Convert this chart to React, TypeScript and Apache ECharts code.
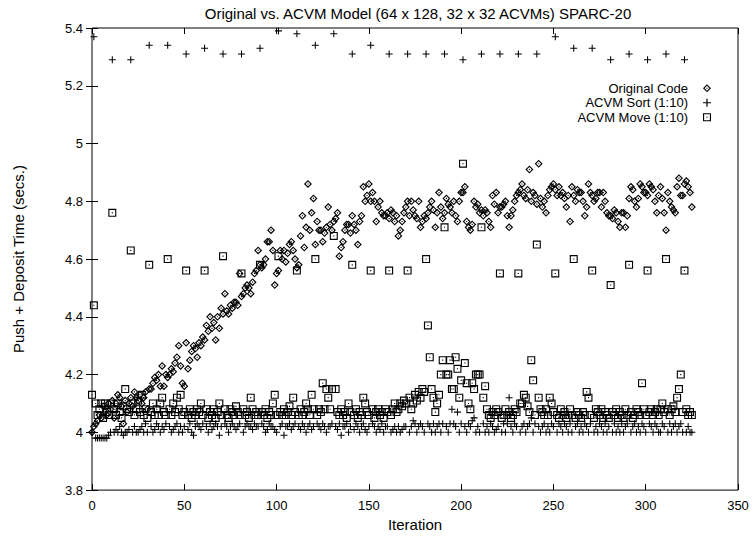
import React, { useEffect, useRef } from "react";
import * as echarts from "echarts";

const TITLE = "Original vs. ACVM Model (64 x 128, 32 x 32 ACVMs) SPARC-20";
const X_NAME = "Iteration";
const Y_NAME = "Push + Deposit Time (secs.)";
const SERIES_NAMES = ["Original Code", "ACVM Sort (1:10)", "ACVM Move (1:10)"];

// Original Code, one value per iteration (0..325)
const originalCode = [
  4.00, 4.02, 4.03, 4.04, 4.06, 4.05, 4.09, 4.07, 4.06, 4.10,
  4.08, 4.11, 4.05, 4.10, 4.13, 4.12, 4.09, 4.03, 4.11, 4.07,
  4.10, 4.12, 4.09, 4.14, 4.12, 4.11, 4.13, 4.10, 4.12, 4.14,
  4.08, 4.15, 4.15, 4.17, 4.19, 4.18, 4.20, 4.16, 4.23, 4.16,
  4.20, 4.19, 4.20, 4.22, 4.21, 4.24, 4.26, 4.30, 4.23, 4.17,
  4.16, 4.31, 4.22, 4.25, 4.28, 4.30, 4.29, 4.26, 4.31, 4.30,
  4.33, 4.32, 4.37, 4.35, 4.40, 4.36, 4.38, 4.32, 4.40, 4.36,
  4.43, 4.41, 4.48, 4.42, 4.41, 4.44, 4.43, 4.45, 4.45, 4.44,
  4.55, 4.47, 4.48, 4.50, 4.51, 4.50, 4.48, 4.52, 4.55, 4.56,
  4.63, 4.58, 4.57, 4.58, 4.60, 4.66, 4.66, 4.70, 4.63, 4.51,
  4.55, 4.56, 4.63, 4.60, 4.63, 4.59, 4.62, 4.65, 4.66, 4.63,
  4.60, 4.57, 4.58, 4.68, 4.75, 4.64, 4.71, 4.86, 4.70, 4.76,
  4.81, 4.65, 4.73, 4.70, 4.70, 4.66, 4.69, 4.71, 4.78, 4.72,
  4.70, 4.73, 4.74, 4.76, 4.61, 4.64, 4.66, 4.70, 4.72, 4.72,
  4.69, 4.75, 4.72, 4.70, 4.65, 4.73, 4.75, 4.85, 4.80, 4.82,
  4.86, 4.80, 4.83, 4.80, 4.73, 4.78, 4.80, 4.76, 4.75, 4.75,
  4.76, 4.74, 4.77, 4.76, 4.73, 4.75, 4.68, 4.70, 4.73, 4.76,
  4.78, 4.80, 4.75, 4.80, 4.77, 4.75, 4.74, 4.80, 4.71, 4.73,
  4.75, 4.74, 4.76, 4.78, 4.80, 4.77, 4.71, 4.76, 4.83, 4.78,
  4.74, 4.76, 4.81, 4.79, 4.78, 4.76, 4.80, 4.75, 4.73, 4.80,
  4.83, 4.83, 4.85, 4.73, 4.71, 4.70, 4.72, 4.80, 4.78, 4.79,
  4.76, 4.77, 4.75, 4.77, 4.76, 4.73, 4.71, 4.82, 4.79, 4.83,
  4.76, 4.78, 4.78, 4.79, 4.80, 4.75, 4.71, 4.75, 4.77, 4.80,
  4.82, 4.83, 4.84, 4.86, 4.82, 4.81, 4.84, 4.91, 4.80, 4.83,
  4.82, 4.79, 4.93, 4.81, 4.78, 4.80, 4.76, 4.82, 4.84, 4.85,
  4.86, 4.84, 4.82, 4.85, 4.82, 4.83, 4.81, 4.78, 4.82, 4.73,
  4.85, 4.82, 4.80, 4.84, 4.83, 4.83, 4.80, 4.75, 4.78, 4.86,
  4.83, 4.82, 4.80, 4.81, 4.83, 4.83, 4.78, 4.83, 4.80, 4.76,
  4.75, 4.75, 4.74, 4.77, 4.76, 4.73, 4.71, 4.76, 4.76, 4.71,
  4.75, 4.81, 4.85, 4.84, 4.80, 4.78, 4.81, 4.86, 4.85, 4.83,
  4.83, 4.82, 4.86, 4.85, 4.84, 4.80, 4.76, 4.82, 4.85, 4.81,
  4.76, 4.70, 4.83, 4.80, 4.78, 4.77, 4.76, 4.85, 4.88, 4.82,
  4.82, 4.86, 4.87, 4.85, 4.83, 4.78,
];

// ACVM Sort, one value per iteration (0..325); every 10th (index 10k+1) is the sort step
const acvmSort = [
  4.00, 5.37, 3.98, 3.98, 3.98, 3.98, 3.98, 3.98, 3.98, 3.99,
  4.00, 5.29, 4.00, 4.01, 4.00, 4.02, 4.00, 3.99, 4.00, 4.00,
  4.01, 5.29, 4.00, 4.02, 4.00, 4.00, 4.01, 4.02, 4.00, 4.03,
  4.00, 5.34, 4.02, 4.00, 4.01, 4.03, 4.02, 4.00, 4.02, 4.01,
  4.03, 5.34, 4.02, 4.00, 4.01, 4.02, 4.03, 4.00, 4.02, 4.00,
  4.02, 5.31, 4.01, 4.03, 4.00, 3.99, 4.02, 4.03, 4.02, 4.01,
  4.03, 5.33, 4.02, 4.00, 4.03, 4.01, 4.02, 4.03, 4.02, 3.99,
  4.02, 5.31, 4.03, 4.02, 4.00, 4.02, 4.03, 4.02, 4.01, 4.02,
  4.03, 5.31, 4.00, 4.02, 4.03, 4.02, 4.02, 4.01, 4.03, 4.02,
  4.02, 5.33, 4.03, 4.02, 4.00, 4.01, 4.03, 4.02, 4.02, 4.01,
  4.00, 5.39, 4.02, 4.03, 3.99, 4.02, 4.02, 4.03, 4.01, 4.02,
  4.03, 5.38, 4.02, 4.01, 4.03, 4.02, 4.00, 4.02, 4.03, 4.01,
  4.02, 5.34, 4.03, 4.02, 4.01, 4.03, 4.02, 4.00, 4.02, 4.02,
  4.03, 5.38, 4.02, 4.01, 4.03, 3.99, 4.02, 4.02, 4.03, 4.00,
  4.02, 5.31, 4.01, 4.03, 4.02, 4.00, 4.02, 4.03, 4.01, 4.00,
  4.02, 5.34, 4.03, 4.02, 4.00, 4.02, 4.01, 4.03, 4.00, 4.02,
  4.02, 5.31, 4.00, 4.01, 4.02, 4.00, 4.02, 4.00, 4.01, 4.02,
  4.02, 5.31, 4.00, 4.02, 4.04, 4.03, 4.00, 4.02, 4.03, 4.02,
  4.00, 5.31, 4.03, 4.02, 4.00, 4.03, 4.00, 4.02, 4.03, 4.00,
  4.03, 5.31, 4.02, 4.00, 4.03, 4.08, 4.03, 4.02, 4.07, 4.00,
  4.03, 5.29, 4.02, 4.00, 4.03, 4.02, 4.04, 4.05, 4.00, 4.02,
  4.00, 5.31, 4.03, 4.00, 4.02, 4.00, 4.03, 4.02, 4.00, 4.01,
  4.02, 5.31, 4.00, 4.03, 4.00, 4.03, 4.12, 4.02, 4.00, 4.03,
  4.02, 5.31, 4.00, 4.02, 4.03, 4.00, 4.02, 4.03, 4.05, 4.00,
  4.03, 5.31, 4.02, 4.00, 4.02, 4.03, 4.00, 4.02, 4.00, 4.03,
  4.02, 5.37, 4.00, 4.03, 4.02, 4.00, 4.03, 4.02, 4.00, 4.03,
  4.00, 5.33, 4.02, 4.03, 4.00, 4.02, 4.00, 4.03, 4.02, 4.00,
  4.03, 5.33, 4.00, 4.02, 4.00, 4.03, 4.02, 4.00, 4.03, 4.00,
  4.02, 5.29, 4.00, 4.03, 4.00, 4.02, 4.00, 4.03, 4.00, 4.02,
  4.03, 5.31, 4.00, 4.02, 4.03, 4.00, 4.02, 4.00, 4.03, 4.02,
  4.00, 5.29, 4.03, 4.02, 4.00, 4.03, 4.02, 4.00, 4.00, 4.03,
  4.02, 5.31, 4.00, 4.03, 4.00, 4.02, 4.03, 4.00, 4.02, 4.03,
  4.00, 5.29, 4.00, 4.02, 4.00, 4.00,
];

// ACVM Move, one value per iteration (0..325); every 10th (index 10k+1) is the move step
const acvmMove = [
  4.13, 4.44, 4.10, 4.06, 4.08, 4.10, 4.05, 4.10, 4.07, 4.06,
  4.10, 4.76, 4.08, 4.06, 4.10, 4.07, 4.05, 4.09, 4.15, 4.08,
  4.07, 4.63, 4.10, 4.06, 4.08, 4.11, 4.07, 4.13, 4.06, 4.08,
  4.05, 4.58, 4.07, 4.10, 4.06, 4.08, 4.06, 4.10, 4.12, 4.07,
  4.06, 4.60, 4.08, 4.06, 4.10, 4.07, 4.12, 4.08, 4.13, 4.06,
  4.07, 4.56, 4.06, 4.08, 4.05, 4.07, 4.06, 4.08, 4.07, 4.10,
  4.06, 4.56, 4.08, 4.05, 4.07, 4.06, 4.08, 4.05, 4.07, 4.10,
  4.06, 4.61, 4.08, 4.06, 4.05, 4.08, 4.07, 4.06, 4.09, 4.07,
  4.06, 4.55, 4.08, 4.06, 4.07, 4.05, 4.12, 4.08, 4.06, 4.07,
  4.06, 4.58, 4.07, 4.06, 4.08, 4.05, 4.07, 4.06, 4.10, 4.13,
  4.06, 4.61, 4.07, 4.06, 4.08, 4.06, 4.07, 4.09, 4.06, 4.12,
  4.07, 4.56, 4.06, 4.08, 4.06, 4.07, 4.10, 4.08, 4.06, 4.13,
  4.08, 4.60, 4.06, 4.08, 4.07, 4.17, 4.08, 4.15, 4.12, 4.08,
  4.15, 4.68, 4.15, 4.07, 4.06, 4.08, 4.06, 4.07, 4.05, 4.10,
  4.07, 4.58, 4.06, 4.08, 4.05, 4.07, 4.06, 4.12, 4.10, 4.07,
  4.06, 4.56, 4.08, 4.05, 4.07, 4.08, 4.06, 4.07, 4.05, 4.08,
  4.07, 4.56, 4.06, 4.08, 4.10, 4.07, 4.08, 4.10, 4.09, 4.11,
  4.10, 4.56, 4.12, 4.08, 4.10, 4.13, 4.11, 4.14, 4.12, 4.15,
  4.14, 4.60, 4.37, 4.26, 4.15, 4.12, 4.07, 4.10, 4.13, 4.20,
  4.25, 4.71, 4.20, 4.20, 4.25, 4.15, 4.15, 4.26, 4.22, 4.12,
  4.18, 4.93, 4.24, 4.17, 4.10, 4.08, 4.17, 4.15, 4.20, 4.20,
  4.20, 4.71, 4.12, 4.16, 4.08, 4.06, 4.05, 4.07, 4.06, 4.08,
  4.07, 4.55, 4.05, 4.06, 4.08, 4.06, 4.07, 4.05, 4.06, 4.08,
  4.07, 4.55, 4.10, 4.10, 4.13, 4.12, 4.09, 4.07, 4.25, 4.18,
  4.06, 4.65, 4.12, 4.08, 4.07, 4.06, 4.08, 4.06, 4.12, 4.10,
  4.07, 4.55, 4.06, 4.05, 4.08, 4.06, 4.07, 4.05, 4.06, 4.08,
  4.06, 4.60, 4.05, 4.07, 4.06, 4.05, 4.07, 4.06, 4.14, 4.12,
  4.06, 4.56, 4.05, 4.08, 4.07, 4.06, 4.08, 4.05, 4.07, 4.06,
  4.05, 4.51, 4.07, 4.06, 4.08, 4.05, 4.07, 4.06, 4.05, 4.08,
  4.06, 4.58, 4.07, 4.05, 4.06, 4.08, 4.07, 4.06, 4.17, 4.08,
  4.06, 4.56, 4.07, 4.08, 4.06, 4.07, 4.08, 4.06, 4.08, 4.10,
  4.07, 4.60, 4.08, 4.06, 4.08, 4.09, 4.07, 4.12, 4.15, 4.20,
  4.07, 4.56, 4.08, 4.06, 4.07, 4.06,
];

const X_MIN = 0;
const X_MAX = 350;
const X_STEP = 50;
const Y_MIN = 3.8;
const Y_MAX = 5.4;
const Y_STEP = 0.2;

const FONT = "'Liberation Sans', Arial, Helvetica, sans-serif";
const INK = "#000";

const DIAMOND = "path://M5,0L10,5L5,10L0,5Z M5,2L2,5L5,8L8,5Z M4.3,4.3H5.7V5.7H4.3Z";
const PLUS = "path://M4.25,0h1.5v4.25h4.25v1.5h-4.25v4.25h-1.5v-4.25h-4.25v-1.5h4.25z";
const SQUARE = "path://M0,0H10V10H0Z M1.4,1.4V8.6H8.6V1.4Z M4.3,4.3H5.7V5.7H4.3Z";

const toPoints = (vals: number[]) => vals.map((v, i) => [i, v]);

export default function App() {
  const ref = useRef<HTMLDivElement>(null);
  useEffect(() => {
    if (!ref.current) return;
    const chart = echarts.init(ref.current, null, { renderer: "svg" });
    const tick = { show: true, inside: true, length: 6, lineStyle: { color: INK, width: 1 } };
    const label = { color: INK, fontSize: 13, fontFamily: FONT };
    const nameStyle = { color: INK, fontSize: 15, fontFamily: FONT };
    chart.setOption({
      animation: false,
      backgroundColor: "#fff",
      grid: {
        left: 92,
        right: 16,
        top: 28,
        bottom: 37,
        show: true,
        borderColor: INK,
        borderWidth: 1,
        backgroundColor: "transparent",
      },
      graphic: [
        {
          type: "text",
          x: 418,
          y: 13,
          style: {
            text: TITLE,
            font: `15px ${FONT}`,
            fill: INK,
            textAlign: "center",
            textVerticalAlign: "middle",
          },
        },
      ],
      legend: {
        orient: "vertical",
        right: 38,
        top: 76,
        align: "right",
        itemWidth: 8,
        itemHeight: 8,
        itemGap: 0,
        textStyle: { ...label, lineHeight: 14.5, padding: [0, 10, 0, 0] },
        data: SERIES_NAMES,
      },
      xAxis: [
        {
          type: "value",
          min: X_MIN,
          max: X_MAX,
          interval: X_STEP,
          position: "bottom",
          axisLine: { show: false },
          axisTick: tick,
          axisLabel: { ...label, margin: 9 },
          splitLine: { show: false },
          name: X_NAME,
          nameLocation: "middle",
          nameGap: 22,
          nameTextStyle: nameStyle,
        },
        {
          type: "value",
          min: X_MIN,
          max: X_MAX,
          interval: X_STEP,
          position: "top",
          axisLine: { show: false },
          axisTick: tick,
          axisLabel: { show: false },
          splitLine: { show: false },
        },
      ],
      yAxis: [
        {
          type: "value",
          min: Y_MIN,
          max: Y_MAX,
          interval: Y_STEP,
          position: "left",
          axisLine: { show: false },
          axisTick: tick,
          axisLabel: { ...label, margin: 9 },
          splitLine: { show: false },
          name: Y_NAME,
          nameLocation: "middle",
          nameGap: 66,
          nameTextStyle: nameStyle,
        },
        {
          type: "value",
          min: Y_MIN,
          max: Y_MAX,
          interval: Y_STEP,
          position: "right",
          axisLine: { show: false },
          axisTick: tick,
          axisLabel: { show: false },
          splitLine: { show: false },
        },
      ],
      series: [
        {
          name: SERIES_NAMES[0],
          type: "scatter",
          symbol: DIAMOND,
          symbolSize: 8,
          itemStyle: { color: INK, opacity: 1 },
          data: toPoints(originalCode),
          z: 3,
        },
        {
          name: SERIES_NAMES[1],
          type: "scatter",
          symbol: PLUS,
          symbolSize: 7,
          itemStyle: { color: INK, opacity: 1 },
          data: toPoints(acvmSort),
          z: 2,
        },
        {
          name: SERIES_NAMES[2],
          type: "scatter",
          symbol: SQUARE,
          symbolSize: 8,
          itemStyle: { color: INK, opacity: 1 },
          data: toPoints(acvmMove),
          z: 1,
        },
      ],
    });
    return () => chart.dispose();
  }, []);
  return (
    <div
      ref={ref}
      style={{ position: "absolute", left: 0, top: 0, width: 754, height: 537, background: "#fff" }}
    />
  );
}
